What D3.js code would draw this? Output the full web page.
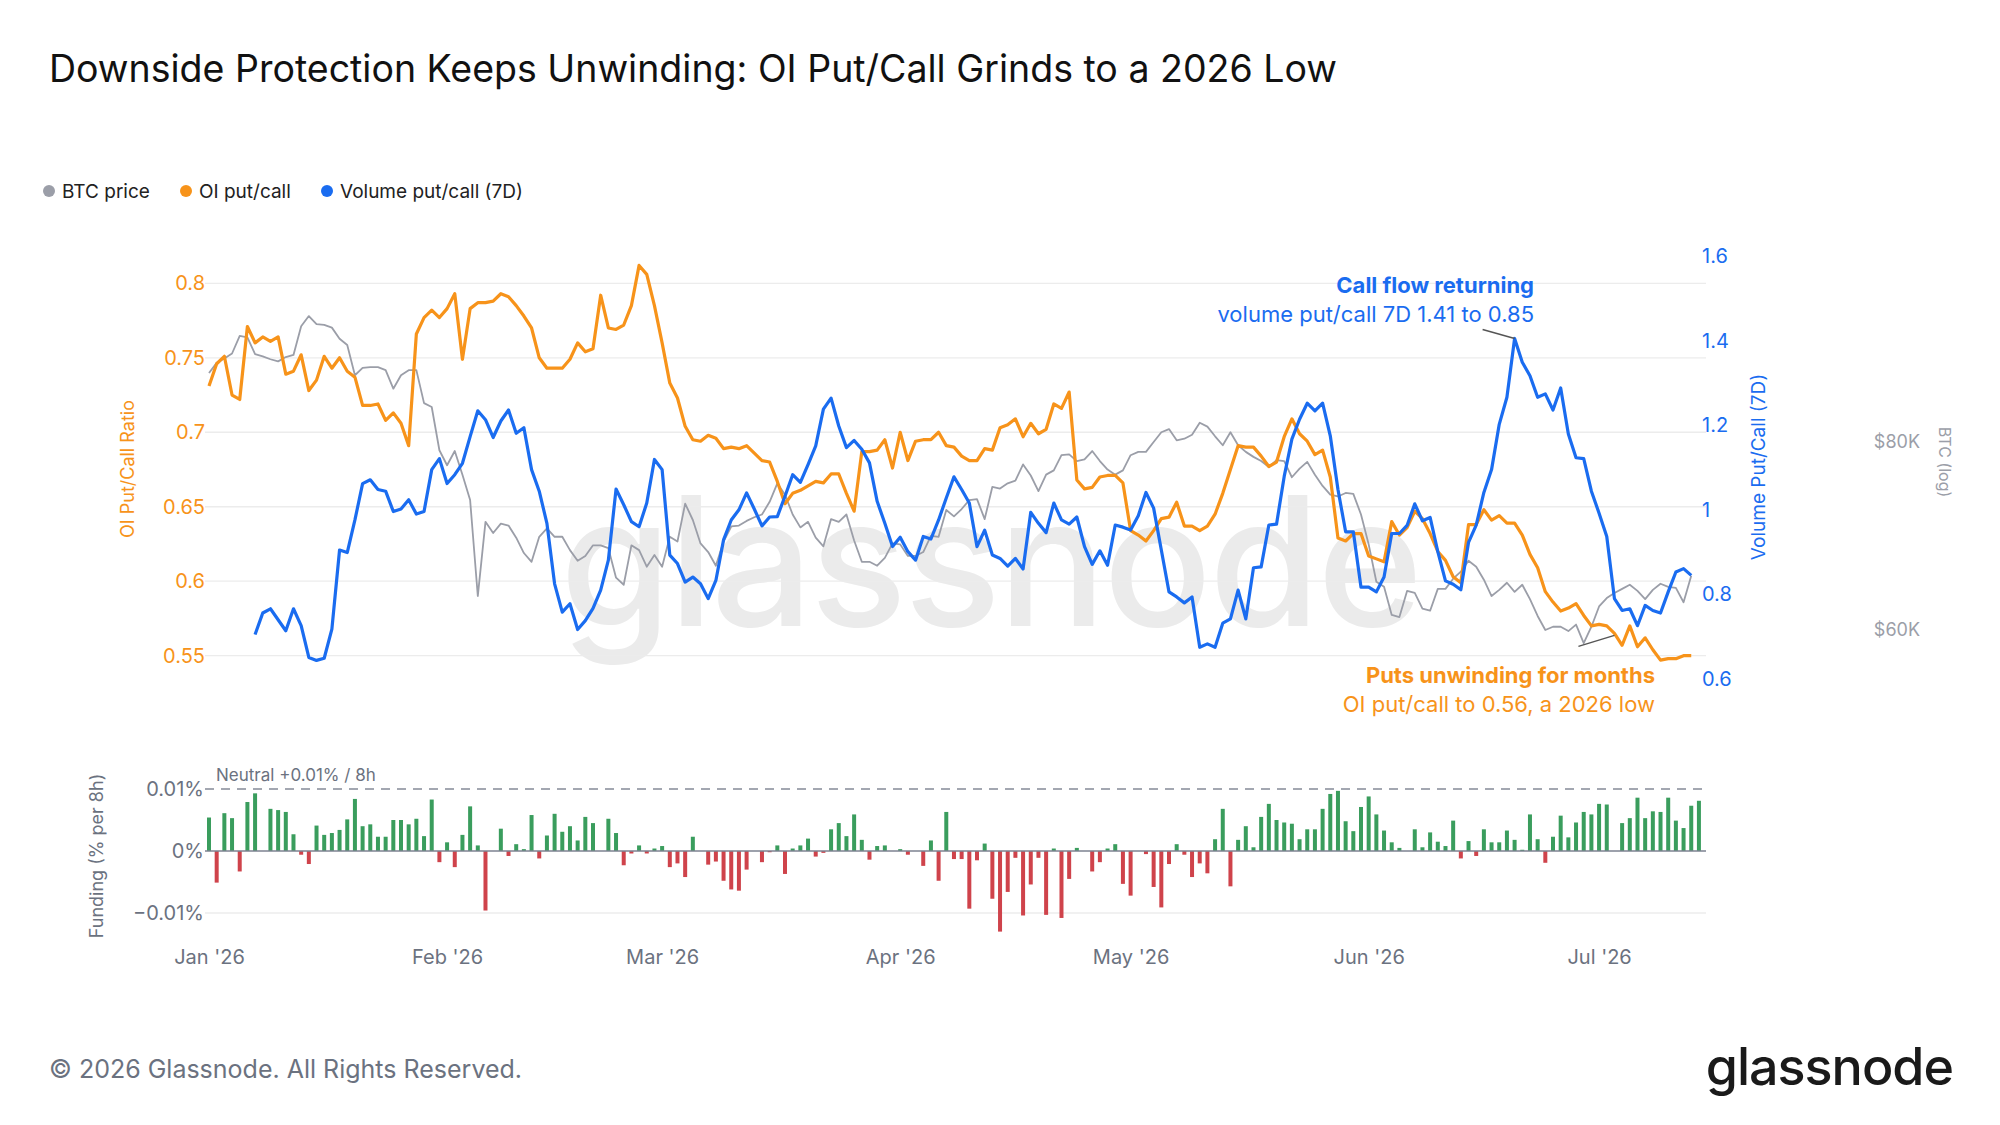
<!DOCTYPE html>
<html><head><meta charset="utf-8">
<script src="https://cdn.jsdelivr.net/npm/d3@7"></script>
<style>body{margin:0;background:#fff}svg{display:block;font-family:Inter,"Noto Sans",sans-serif}</style>
</head><body><svg id="c" width="2000" height="1125"></svg>
<script>
// ---------- DATA (daily, starting 2026-01-01) ----------
const startDate = "2026-01-01";
const oiPutCall = [0.731,0.746,0.751,0.725,0.722,0.771,0.760,0.764,0.761,0.764,0.739,0.741,0.752,0.728,0.735,0.751,0.743,0.750,0.741,0.737,0.718,0.718,0.719,0.708,0.713,0.706,0.691,0.766,0.777,0.782,0.777,0.783,0.793,0.749,0.783,0.787,0.787,0.788,0.793,0.791,0.785,0.778,0.770,0.750,0.743,0.743,0.743,0.749,0.760,0.754,0.756,0.792,0.770,0.769,0.772,0.785,0.812,0.806,0.785,0.760,0.733,0.723,0.704,0.695,0.694,0.698,0.696,0.689,0.690,0.689,0.691,
0.686,0.681,0.680,0.667,0.652,0.659,0.661,0.664,0.667,0.666,0.672,0.672,0.659,0.647,0.687,0.687,0.688,0.695,0.676,0.700,0.681,0.694,0.695,0.695,0.700,0.691,0.690,0.684,0.681,0.681,0.689,0.688,0.703,0.705,0.709,0.697,0.706,0.699,0.702,0.719,0.716,0.727,0.668,0.662,0.663,0.670,0.671,0.671,0.666,0.634,0.631,0.627,0.634,0.642,0.643,0.653,0.637,0.637,0.634,0.637,0.645,0.659,0.675,0.691,0.690,0.690,0.684,0.677,0.680,0.697,0.709,0.699,
0.694,0.685,0.688,0.670,0.629,0.627,0.632,0.632,0.617,0.615,0.613,0.640,0.631,0.636,0.647,0.642,0.632,0.620,0.614,0.603,0.599,0.638,0.638,0.648,0.641,0.644,0.639,0.639,0.631,0.618,0.609,0.593,0.586,0.580,0.582,0.585,0.577,0.570,0.571,0.570,0.565,0.557,0.570,0.556,0.562,0.554,0.547,0.548,0.548,0.550,0.550];
const volStartDay = 6;
const volPutCall7d = [0.705,0.756,0.766,0.740,0.714,0.766,0.726,0.651,0.644,0.649,0.718,0.905,0.899,0.976,1.062,1.071,1.048,1.044,0.996,1.002,1.024,0.990,0.996,1.095,1.121,1.062,1.083,1.110,1.173,1.234,1.213,1.171,1.210,1.236,1.181,1.194,1.095,1.044,0.968,0.825,0.758,0.778,0.717,0.738,0.767,0.810,0.881,1.049,1.012,0.972,0.960,1.016,1.119,1.095,0.893,0.873,0.829,0.841,0.825,0.790,0.833,0.929,0.976,1.000,1.040,
1.002,0.962,0.983,0.984,1.032,1.083,1.065,1.107,1.151,1.238,1.264,1.198,1.147,1.164,1.143,1.111,1.020,0.968,0.913,0.935,0.901,0.881,0.937,0.931,0.976,1.028,1.078,1.048,1.016,0.913,0.952,0.893,0.885,0.867,0.885,0.860,0.994,0.968,0.946,1.016,0.976,0.966,0.983,0.913,0.871,0.903,0.869,0.964,0.959,0.952,0.986,1.041,1.004,0.905,0.806,0.794,0.780,0.794,0.675,0.683,0.675,0.732,0.742,0.810,0.742,0.863,0.865,0.964,0.966,1.079,1.167,1.214,
1.252,1.234,1.252,1.175,1.048,0.948,0.948,0.817,0.817,0.806,0.841,0.944,0.944,0.963,1.014,0.974,0.982,0.901,0.832,0.824,0.811,0.923,0.964,1.041,1.095,1.202,1.266,1.405,1.349,1.317,1.266,1.274,1.236,1.288,1.179,1.123,1.121,1.044,0.992,0.937,0.790,0.762,0.766,0.726,0.774,0.762,0.756,0.806,0.853,0.861,0.845];
const btcPriceK = [88.9,90.3,90.9,91.6,94.1,93.9,91.5,91.2,90.8,90.5,91.1,91.4,95.5,97.0,95.8,95.7,95.3,93.7,92.8,88.6,89.6,89.7,89.7,89.3,86.8,88.6,89.3,89.3,84.9,84.4,79.0,77.2,78.9,76.1,73.2,63.2,70.8,69.6,70.6,70.4,69.1,67.5,66.6,69.2,70.1,69.2,69.2,67.8,66.7,67.2,68.3,68.3,68.0,65.0,64.3,68.3,67.8,66.1,67.3,66.1,69.2,68.7,72.8,71.0,68.5,67.6,66.2,68.7,70.3,70.4,70.9,
71.3,71.6,73.0,75.1,73.8,71.6,70.2,70.8,69.1,68.2,71.1,70.8,71.6,68.8,66.6,66.6,66.2,67.0,68.5,68.4,67.2,67.2,67.6,69.3,69.2,72.1,71.4,72.2,73.2,73.3,71.1,74.7,74.5,75.1,75.4,77.3,76.0,74.2,76.1,76.6,78.4,78.5,77.7,77.9,78.9,77.7,76.7,76.1,76.6,78.4,78.8,78.8,80.0,81.2,81.6,80.2,80.4,80.9,82.4,81.9,80.7,79.6,81.2,79.6,78.8,78.2,77.7,77.0,77.8,77.7,75.8,76.8,
77.6,76.1,74.8,73.8,73.6,74.0,73.9,71.6,68.4,64.6,64.1,61.4,61.2,63.7,63.5,62.0,61.8,63.9,63.9,64.9,65.6,66.7,66.1,64.8,63.2,63.8,64.5,63.6,64.3,62.9,61.3,60.0,60.3,60.3,59.9,60.5,58.8,60.3,62.2,63.0,63.5,63.9,64.3,63.7,62.9,63.8,64.4,64.1,64.0,62.6,65.2];
const fundingPct = [0.0054,-0.0051,0.0061,0.0053,-0.0033,0.0079,0.0093,0,0.0068,0.0066,0.0063,0.0027,-0.0006,-0.0021,0.0041,0.0026,0.0029,0.0034,0.0051,0.0084,0.0040,0.0043,0.0023,0.0023,0.0050,0.0050,0.0043,0.0052,0.0024,0.0083,-0.0018,0.0014,-0.0026,0.0026,0.0072,0.0009,-0.0096,0,0.0036,-0.0008,0.0011,0.0003,0.0058,-0.0012,0.0025,0.0060,0.0031,0.0040,0.0017,0.0055,0.0045,0,0.0052,0.0029,-0.0023,-0.0004,0.0009,-0.0004,0.0004,0.0008,-0.0026,-0.0020,-0.0042,0.0023,0,-0.0022,-0.0017,-0.0048,-0.0062,-0.0064,-0.0030,0,-0.0018,-0.0002,0.0009,-0.0037,0.0004,0.0009,0.0020,-0.0009,-0.0003,0.0035,0.0045,0.0024,0.0059,0.0018,-0.0014,0.0008,0.0009,0,0.0003,-0.0006,0,-0.0024,0.0017,-0.0048,0.0063,-0.0013,-0.0013,-0.0093,-0.0015,
0.0012,-0.0077,-0.0130,-0.0066,-0.0011,-0.0104,-0.0054,-0.0011,-0.0103,0.0004,-0.0108,-0.0045,0.0005,0,-0.0033,-0.0018,0.0004,0.0011,-0.0053,-0.0072,0,-0.0005,-0.0058,-0.0091,-0.0021,0.0011,-0.0006,-0.0042,-0.0020,-0.0036,0.0019,0.0068,-0.0057,0.0018,0.0040,0.0006,0.0055,0.0076,0.0050,0.0046,0.0044,0.0019,0.0035,0.0035,0.0068,0.0092,0.0097,0.0048,0.0032,0.0071,0.0088,0.0059,0.0033,0.0014,0.0005,0,0.0035,0.0006,0.0030,0.0015,0.0008,0.0049,-0.0012,0.0016,-0.0008,0.0035,0.0014,0.0014,0.0033,0.0018,0.0002,0.0059,0.0019,-0.0019,0.0023,0.0057,0.0022,0.0046,0.0063,0.0059,0.0076,0.0075,0,0.0045,0.0053,0.0086,0.0053,0.0064,0.0063,0.0086,0.0049,0.0037,0.0073,0.0081];
const oiTicks = [0.55,0.6,0.65,0.7,0.75,0.8];
const volTicks = [0.6,0.8,1,1.2,1.4,1.6];
const btcTicks = [60000,80000];
const fundingTicks = [0.01,0,-0.01];

// ---------- CHART ----------
const svg = d3.select("#c");
const C = {orange:"#f7931a", blue:"#1a6cf0", gray:"#9b9ea8", text:"#6b7280", green:"#3a9d5d", red:"#cf434b"};
const t0 = new Date(startDate + "T00:00:00Z");
const day = i => d3.utcDay.offset(t0, i);
const x = d3.scaleUtc().domain([t0, day(194)]).range([209, 209 + 194*7.68]);
const gx0 = 205, gx1 = 1706;
const yOI = d3.scaleLinear().domain([0.55, 0.8]).range([655.7, 283.3]);
const yVol = d3.scaleLinear().domain([0.6, 1.6]).range([679, 256]);
const yBtc = d3.scaleLog().domain([60000, 80000]).range([630, 442]);
const yF = d3.scaleLinear().domain([-0.01, 0.01]).range([913, 789]);

// title
svg.append("text").attr("x",49).attr("y",82).attr("font-size",37.5).attr("fill","#111").text("Downside Protection Keeps Unwinding: OI Put/Call Grinds to a 2026 Low");

// legend
const leg = [["BTC price",C.gray,49],["OI put/call",C.orange,186],["Volume put/call (7D)",C.blue,327]];
leg.forEach(([t,c,lx])=>{
  svg.append("circle").attr("cx",lx).attr("cy",191).attr("r",6).attr("fill",c);
  svg.append("text").attr("x",lx+13).attr("y",198).attr("font-size",19).attr("fill","#222").text(t);
});

// watermark
svg.append("text").attr("x",990).attr("y",626).attr("text-anchor","middle").attr("font-size",180).attr("font-weight",500).attr("fill","#ebebeb").attr("letter-spacing",-3).text("glassnode");

// grid
svg.append("g").selectAll("line").data(oiTicks).join("line")
  .attr("x1",gx0).attr("x2",gx1).attr("y1",d=>yOI(d)).attr("y2",d=>yOI(d)).attr("stroke","#ececec").attr("stroke-width",1.3);

// left axis
const gL = svg.append("g").attr("transform","translate(205,0)").call(d3.axisLeft(yOI).tickValues(oiTicks).tickSize(0).tickPadding(0).tickFormat(d3.format("~g")));
gL.select(".domain").remove();
gL.selectAll("text").attr("fill",C.orange).attr("font-size",20).attr("font-family","Inter,sans-serif");
svg.append("text").attr("transform","translate(134,469) rotate(-90)").attr("text-anchor","middle").attr("font-size",18).attr("fill",C.orange).text("OI Put/Call Ratio");

// right vol axis
const gR = svg.append("g").attr("transform","translate(1702,0)").call(d3.axisRight(yVol).tickValues(volTicks).tickSize(0).tickPadding(0).tickFormat(d3.format("~g")));
gR.select(".domain").remove();
gR.selectAll("text").attr("fill",C.blue).attr("font-size",20).attr("font-family","Inter,sans-serif");
svg.append("text").attr("transform","translate(1765,467) rotate(-90)").attr("text-anchor","middle").attr("font-size",19).attr("fill",C.blue).text("Volume Put/Call (7D)");

// btc axis
const gB = svg.append("g").attr("transform","translate(1920,0)").call(d3.axisLeft(yBtc).tickValues(btcTicks).tickSize(0).tickPadding(0).tickFormat(d=>"$"+(d/1000)+"K"));
gB.select(".domain").remove();
gB.selectAll("text").attr("fill",C.gray).attr("font-size",18).attr("font-family","Inter,sans-serif");
svg.append("text").attr("transform","translate(1939,462) rotate(90)").attr("text-anchor","middle").attr("font-size",16).attr("fill",C.gray).text("BTC (log)");

// lines
const line = (arr, yS, off=0, mul=1) => d3.line().x((d,i)=>x(day(i+off))).y(d=>yS(d*mul))(arr);
svg.append("path").attr("d",line(btcPriceK,yBtc,0,1000)).attr("fill","none").attr("stroke",C.gray).attr("stroke-width",1.8).attr("stroke-linejoin","round");
svg.append("path").attr("d",line(oiPutCall,yOI)).attr("fill","none").attr("stroke",C.orange).attr("stroke-width",3.2).attr("stroke-linejoin","round");
svg.append("path").attr("d",line(volPutCall7d,yVol,volStartDay)).attr("fill","none").attr("stroke",C.blue).attr("stroke-width",3.2).attr("stroke-linejoin","round");

// annotations
const peakIdx = volPutCall7d.indexOf(d3.max(volPutCall7d));
const px = x(day(peakIdx+volStartDay)), py = yVol(volPutCall7d[peakIdx]);
svg.append("line").attr("x1",px-32).attr("y1",py-9).attr("x2",px).attr("y2",py).attr("stroke","#555").attr("stroke-width",1.5);
svg.append("text").attr("x",1534).attr("y",293).attr("text-anchor","end").attr("font-size",22).attr("font-weight",700).attr("fill",C.blue).text("Call flow returning");
svg.append("text").attr("x",1534).attr("y",322).attr("text-anchor","end").attr("font-size",22).attr("fill",C.blue).text("volume put/call 7D 1.41 to 0.85");
const oiIdx = 183;
const ox = x(day(oiIdx)), oy = yOI(oiPutCall[oiIdx]);
svg.append("line").attr("x1",ox).attr("y1",oy+2).attr("x2",ox-36).attr("y2",oy+13).attr("stroke","#555").attr("stroke-width",1.5);
svg.append("text").attr("x",1655).attr("y",683).attr("text-anchor","end").attr("font-size",22).attr("font-weight",700).attr("fill",C.orange).text("Puts unwinding for months");
svg.append("text").attr("x",1655).attr("y",712).attr("text-anchor","end").attr("font-size",22).attr("fill",C.orange).text("OI put/call to 0.56, a 2026 low");

// funding panel
svg.append("line").attr("x1",gx0).attr("x2",gx1).attr("y1",yF(-0.01)).attr("y2",yF(-0.01)).attr("stroke","#ececec").attr("stroke-width",1.3);
svg.append("g").selectAll("rect").data(fundingPct).join("rect")
  .attr("x",(d,i)=>x(day(i))-2).attr("width",4)
  .attr("y",d=>d>=0?yF(d):yF(0)).attr("height",d=>Math.abs(yF(d)-yF(0)))
  .attr("fill",d=>d>=0?C.green:C.red);
svg.append("line").attr("x1",gx0).attr("x2",gx1).attr("y1",yF(0)).attr("y2",yF(0)).attr("stroke","#7d8290").attr("stroke-width",1.5);
svg.append("line").attr("x1",gx0).attr("x2",gx1).attr("y1",yF(0.01)).attr("y2",yF(0.01)).attr("stroke","#a3a7b1").attr("stroke-width",2).attr("stroke-dasharray","9,7");
svg.append("text").attr("x",216).attr("y",781).attr("font-size",17).attr("fill",C.text).text("Neutral +0.01% / 8h");
const gF = svg.append("g").attr("transform","translate(204,0)").call(d3.axisLeft(yF).tickValues(fundingTicks).tickSize(0).tickPadding(0).tickFormat(d=>d===0?"0%":(d<0?"\u22120.01%":"0.01%")));
gF.select(".domain").remove();
gF.selectAll("text").attr("fill",C.text).attr("font-size",20).attr("font-family","Inter,sans-serif");
svg.append("text").attr("transform","translate(103,856) rotate(-90)").attr("text-anchor","middle").attr("font-size",18).attr("fill",C.text).text("Funding (% per 8h)");

// x axis
const gX = svg.append("g").attr("transform","translate(0,950)").call(d3.axisBottom(x).ticks(d3.utcMonth.every(1)).tickSize(0).tickPadding(0).tickFormat(d3.utcFormat("%b '%y")));
gX.select(".domain").remove();
gX.selectAll("text").attr("fill",C.text).attr("font-size",20).attr("font-family","Inter,sans-serif");

// footer
svg.append("text").attr("x",49).attr("y",1078).attr("font-size",25).attr("fill",C.text).text("\u00a9 2026 Glassnode. All Rights Reserved.");
svg.append("text").attr("x",1953).attr("y",1085).attr("text-anchor","end").attr("font-size",52).attr("font-weight",500).attr("fill","#1a1a1a").attr("letter-spacing",-1).text("glassnode");
</script></body></html>
